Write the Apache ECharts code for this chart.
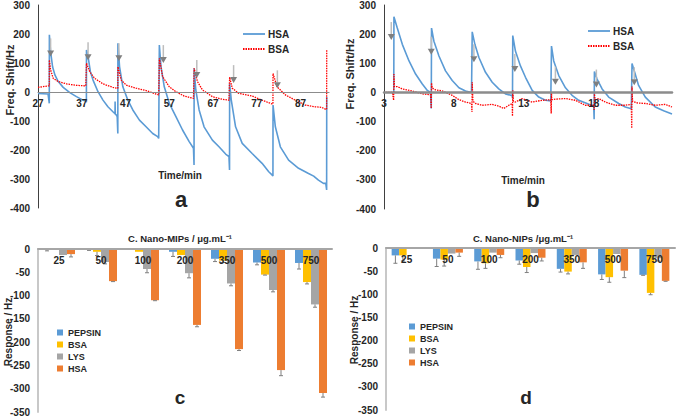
<!DOCTYPE html>
<html><head><meta charset="utf-8">
<script src="https://cdn.jsdelivr.net/npm/echarts@6/dist/echarts.min.js"></script>
<style>html,body{margin:0;padding:0;background:#fff}#c{width:676px;height:417px}</style>
</head><body><div id="c"></div>
<script>
// ---------- Panel a: time (min) vs frequency shift (Hz) ----------
const timeTicksA = [27, 37, 47, 57, 67, 77, 87];
const hsaA = [[27,-5],[29.3,-7],[29.58,-39],[29.6,197],[29.88,139],[30.33,87],[30.86,59],[31.62,36],[32.76,16],[34.27,-2],[35.79,-16],[37.3,-28],[37.91,-31],
 [38.06,-35],[38.08,145],[38.44,122],[38.97,70],[39.58,41],[40.71,1],[41.85,-28],[42.98,-51],[44.12,-68],[44.6,-75],[44.62,-33],[44.66,-76],[44.88,-79],[45.1,-85],
 [45.24,-143],[45.26,168],[45.64,87],[46.39,18],[47.53,-28],[48.67,-62],[50.18,-97],[51.7,-120],[53.21,-143],[54.35,-154],[54.58,-160],
 [54.71,-160],[54.73,162],[55.11,87],[55.86,18],[57.0,-39],[58.52,-85],[60.03,-131],[61.55,-171],[62.53,-194],
 [62.66,-252],[62.68,82],[63.06,7],[63.82,-62],[64.95,-120],[66.85,-166],[68.36,-189],[69.88,-214],[70.64,-223],
 [70.77,-269],[70.79,30],[71.17,-28],[72.15,-120],[73.67,-177],[75.94,-212],[78.21,-246],[79.73,-275],[80.48,-286],
 [80.69,-290],[80.71,-45],[81.24,-120],[82.38,-189],[84.27,-235],[86.55,-263],[88.82,-281],[90.0,-290],[91.09,-304],[92.23,-315],[92.76,-315],
 [92.96,-338],[92.98,-17]];
const bsaA = [[27,16],[29.35,21],[29.58,21],[29.6,110],[29.88,76],[30.48,47],[31.62,36],[33.52,28],[35.79,23],[37.91,21],
 [38.06,21],[38.08,99],[38.82,70],[39.95,47],[41.85,28],[44.12,16],[45.03,13],
 [45.24,13],[45.26,87],[46.02,41],[47.15,24],[49.42,13],[51.7,5],[53.97,-7],[54.58,-10],
 [54.71,-10],[54.73,116],[55.48,53],[57.0,18],[58.52,1],[60.41,-14],[62.53,-22],
 [62.66,-22],[62.68,82],[63.44,36],[64.58,7],[66.85,-16],[69.12,-25],[70.64,-28],
 [70.77,-28],[70.79,51],[71.39,13],[72.91,-5],[75.94,-14],[78.21,-28],[79.73,-37],[80.48,-41],
 [80.69,-41],[80.71,64],[81.62,18],[83.52,-10],[85.79,-28],[88.06,-45],[90.33,-51],[91.85,-53],[92.76,-60],
 [92.96,-60],[92.98,147]];
const arrowsA = [[29.88,133],[38.44,120],[45.48,116],[55.64,110],[63.29,59],[71.7,41],[81.7,23]];

// ---------- Panel b ----------
const timeTicksB = [3, 8, 13, 18];
const hsaB = [[3.7,0],[3.71,260],[3.95,221],[4.31,165],[4.79,108],[5.26,63],[5.74,29],[6.1,7],[6.33,0],
 [6.38,-55],[6.4,221],[6.57,176],[6.93,125],[7.4,74],[7.88,41],[8.36,16],[8.83,5],[9.26,0],
 [9.31,208],[9.5,165],[9.79,120],[10.26,69],[10.74,35],[11.21,12],[11.69,-5],[12.17,-11],
 [12.19,-20],[12.21,195],[12.4,142],[12.76,91],[13.12,52],[13.6,7],[14.07,-16],[14.55,-27],[14.93,-29],
 [14.98,159],[15.14,108],[15.5,58],[15.98,16],[16.45,-10],[16.93,-27],[17.52,-38],[18.0,-47],
 [18.03,-92],[18.05,72],[18.24,46],[18.6,12],[19.07,-16],[19.79,-38],[20.26,-50],[20.69,-56],
 [20.74,99],[20.93,69],[21.21,24],[21.69,-16],[22.4,-50],[23.0,-63],[23.6,-74]];
const bsaB = [[3.12,0],[3.6,0],[3.69,-27],[3.71,63],[3.75,20],[3.95,20],[4.31,12],[5.02,5],[5.74,-5],[6.33,-8],
 [6.38,-55],[6.4,32],[6.45,15],[6.69,9],[7.17,5],[7.88,-10],[8.36,-25],[8.83,-33],[9.26,-38],
 [9.29,-67],[9.31,35],[9.36,-30],[9.55,-38],[10.02,-44],[10.74,-41],[11.21,-47],[11.57,-55],[11.93,-44],[12.17,-38],
 [12.19,-81],[12.21,7],[12.25,-30],[12.4,-33],[12.88,-21],[13.6,-33],[14.31,-27],[14.93,-25],
 [14.96,-72],[14.98,1],[15.0,-25],[15.26,-23],[15.98,-21],[16.69,-27],[17.4,-44],[18.0,-44],
 [18.03,-60],[18.05,-5],[18.1,-25],[18.36,-21],[18.83,-33],[19.55,-44],[20.26,-44],[20.69,-41],
 [20.72,-123],[20.74,20],[20.78,-30],[21.1,-36],[21.69,-38],[22.4,-44],[23.12,-41],[23.6,-50]];
const arrowsB = [[3.52,190],[6.38,140],[9.43,114],[12.36,80],[15.26,37],[18.19,27],[20.9,35]];

// ---------- Panels c & d: bar responses ----------
const concLabels = ['25','50','100','200','350','500','750'];
const proteins = ['PEPSIN','BSA','LYS','HSA'];
const mipsPepsin = [-1, -1, -0.5, -6, -21, -29, -30];
const mipsBSA    = [-2, -6, -6, -13, -25, -55, -71];
const mipsLYS    = [-13, -28, -43, -52, -74, -88, -119];
const mipsHSA    = [-11, -69, -110, -163, -215, -260, -309];
const mipsPepsinErr = [3, 2, 0, 10, 6, 5, 13];
const mipsBSAErr    = [0, 8, 0, 0, 4, 1, 4];
const mipsLYSErr    = [0, 4, 8, 10, 5, 4, 6];
const mipsHSAErr    = [6, 1, 1, 4, 3, 12, 9];
const nipsPepsin = [-16, -23, -29, -27, -45, -57, -58];
const nipsBSA    = [-16, -25, -33, -41, -51, -63, -97];
const nipsLYS    = [-2, -12, -10, -11, -15, -13, -22];
const nipsHSA    = [-1, -10, -15, -21, -31, -49, -71];
const nipsPepsinErr = [17, 17, 17, 8, 7, 11, 1];
const nipsBSAErr    = [12, 14, 11, 12, 5, 11, 4];
const nipsLYSErr    = [0, 0, 0, 0, 0, 0, 6];
const nipsHSAErr    = [0, 8, 6, 7, 13, 15, 1];

const barColors = ['#5B9BD5','#FFC000','#A5A5A5','#ED7D31'];
const FONT = 'Liberation Sans';
const txt = '#262626';

const chart = echarts.init(document.getElementById('c'), null, {renderer:'svg'});

function lineXAxis(idx, min, max, ticks, lw, off) {
  return {type:'value', gridIndex:idx, min:min, max:max, position:'bottom', offset:off, z:8,
    axisLine:{onZero:false, lineStyle:{color:'#8c8c8c', width:lw}},
    axisTick:{show:false}, splitLine:{show:false},
    axisLabel:{customValues:ticks, margin:6, color:txt, fontSize:10, fontWeight:'bold', fontFamily:FONT}};
}
function lineYAxis(idx) {
  return {type:'value', gridIndex:idx, min:-400, max:300, interval:100,
    axisLine:{show:true, onZero:false, lineStyle:{color:'#404040', width:1}},
    axisTick:{show:false}, splitLine:{show:false},
    axisLabel:{margin:8, color:txt, fontSize:10, fontWeight:'bold', fontFamily:FONT}};
}
function barXAxis(idx) {
  return {type:'category', gridIndex:idx, data:concLabels, position:'top', z:8,
    axisLine:{onZero:true, lineStyle:{color:'#a6a6a6', width:2}},
    axisTick:{show:false}, splitLine:{show:false},
    axisLabel:{inside:true, margin:6, color:txt, fontSize:10, fontWeight:'bold', fontFamily:FONT}};
}
function barYAxis(idx) {
  return {type:'value', gridIndex:idx, min:-350, max:0, interval:50,
    axisLine:{show:true, onZero:false, lineStyle:{color:'#c8c8c8', width:2}},
    axisTick:{show:false}, splitLine:{show:false},
    axisLabel:{margin:8, color:txt, fontSize:10, fontWeight:'bold', fontFamily:FONT}};
}
function arrowSeries(idx, data) {
  return {type:'custom', xAxisIndex:idx, yAxisIndex:idx, z:6, encode:{x:0,y:1}, data:data,
    renderItem:function(params, api){
      const p = api.coord([api.value(0), api.value(1)]);
      return {type:'group', children:[
        {type:'line', shape:{x1:p[0], y1:p[1]-15, x2:p[0], y2:p[1]-3}, style:{stroke:'#bdbdbd', lineWidth:1.5}},
        {type:'polygon', shape:{points:[[p[0]-3.5,p[1]-3],[p[0]+3.5,p[1]-3],[p[0],p[1]+3]]}, style:{fill:'#7f7f7f'}}
      ]};
    }};
}
function barSeries(idx, name, data, color, bw) {
  return {type:'bar', name:name, xAxisIndex:idx, yAxisIndex:idx, data:data, barWidth:bw, barGap:'0%',
    itemStyle:{color:color}, z:2};
}
function errSeries(idx, values, errs, off) {
  return {type:'custom', xAxisIndex:idx, yAxisIndex:idx, z:4, encode:{x:0,y:1},
    data: values.map((v,i)=>[i, v, errs[i]]),
    renderItem:function(params, api){
      const e = api.value(2);
      if (!e) return {type:'group', children:[]};
      const p0 = api.coord([api.value(0), api.value(1)]);
      const p1 = api.coord([api.value(0), api.value(1) - e]);
      const x = p0[0] + off;
      return {type:'group', children:[
        {type:'line', shape:{x1:x, y1:p0[1], x2:x, y2:p1[1]}, style:{stroke:'#7f7f7f', lineWidth:1}},
        {type:'line', shape:{x1:x-2, y1:p1[1], x2:x+2, y2:p1[1]}, style:{stroke:'#7f7f7f', lineWidth:1}}
      ]};
    }};
}

const mips = [mipsPepsin, mipsBSA, mipsLYS, mipsHSA];
const mipsErr = [mipsPepsinErr, mipsBSAErr, mipsLYSErr, mipsHSAErr];
const nips = [nipsPepsin, nipsBSA, nipsLYS, nipsHSA];
const nipsErr = [nipsPepsinErr, nipsBSAErr, nipsLYSErr, nipsHSAErr];
const series = [];
proteins.forEach((p,i)=>{ series.push(barSeries(2, p, mips[i], barColors[i], 8)); });
proteins.forEach((p,i)=>{ series.push(barSeries(3, p, nips[i], barColors[i], 7.5)); });
proteins.forEach((p,i)=>{ series.push(errSeries(2, mips[i], mipsErr[i], -12 + 8*i)); });
proteins.forEach((p,i)=>{ series.push(errSeries(3, nips[i], nipsErr[i], -11.25 + 7.5*i)); });
series.push({type:'line', name:'HSA a', xAxisIndex:0, yAxisIndex:0, data:hsaA, showSymbol:false, lineStyle:{color:'#5B9BD5', width:1.6}, z:3});
series.push({type:'line', name:'BSA a', xAxisIndex:0, yAxisIndex:0, data:bsaA, showSymbol:false, lineStyle:{color:'#FF0000', width:1.3, type:[1.5,1]}, z:4});
series.push({type:'line', name:'HSA b', xAxisIndex:1, yAxisIndex:1, data:hsaB, showSymbol:false, lineStyle:{color:'#5B9BD5', width:1.6}, z:3});
series.push({type:'line', name:'BSA b', xAxisIndex:1, yAxisIndex:1, data:bsaB, showSymbol:false, lineStyle:{color:'#FF0000', width:1.3, type:[1.5,1]}, z:4});
series.push(arrowSeries(0, arrowsA));
series.push(arrowSeries(1, arrowsB));

function T(x, y, text, font, rot, align) {
  return {type:'text', x:x, y:y, rotation:rot||0, z:10,
    style:{text:text, font:font, fill:txt, align:align||'center', verticalAlign:'middle'}};
}
function L(x1, x2, y, color, dash) {
  return {type:'line', shape:{x1:x1, y1:y, x2:x2, y2:y}, z:10,
    style:{stroke:color, lineWidth:1.8, lineDash:dash||null}};
}
const B10 = 'bold 10px ' + FONT;
const B11 = 'bold 11px ' + FONT;

chart.setOption({
  animation:false,
  backgroundColor:'#ffffff',
  grid:[
    {left:38, top:5, width:291, height:203},
    {left:384, top:4, width:288, height:205},
    {left:38, top:249, width:294, height:165},
    {left:386, top:248, width:289, height:162}
  ],
  xAxis:[lineXAxis(0, 27, 93.5, timeTicksA, 1.2, -116), lineXAxis(1, 3, 23.6, timeTicksB, 2.5, -117),
         barXAxis(2), barXAxis(3)],
  yAxis:[lineYAxis(0), lineYAxis(1), barYAxis(2), barYAxis(3)],
  legend:[
    {data:proteins, orient:'vertical', left:52, top:323, icon:'rect', itemWidth:6, itemHeight:6, itemGap:3,
      textStyle:{fontSize:9, fontWeight:'bold', color:txt, fontFamily:FONT}},
    {data:proteins, orient:'vertical', left:404, top:317, icon:'rect', itemWidth:6, itemHeight:6, itemGap:3,
      textStyle:{fontSize:9, fontWeight:'bold', color:txt, fontFamily:FONT}}
  ],
  graphic:[
    T(10, 80, 'Freq. Shift/Hz', B11, Math.PI/2),
    T(350, 74, 'Freq. Shift/Hz', B11, Math.PI/2),
    T(180, 175, 'Time/min', B10),
    T(523, 180, 'Time/min', B10),
    T(181, 199, 'a', 'bold 22px ' + FONT),
    T(533, 199, 'b', 'bold 22px ' + FONT),
    T(180, 397, 'c', 'bold 19px ' + FONT),
    T(526, 397, 'd', 'bold 19px ' + FONT),
    T(180, 238, 'C. Nano-MIPs / μg.mL⁻¹', 'bold 9.5px ' + FONT),
    T(523, 238, 'C. Nano-NIPs /μg.mL⁻¹', 'bold 9.5px ' + FONT),
    T(8, 332, 'Response / Hz', B10, Math.PI/2),
    T(354, 330, 'Response / Hz', B10, Math.PI/2),
    L(243, 265, 34, '#5B9BD5'),
    L(243, 265, 49, '#FF0000', [1.5,1]),
    T(268, 34, 'HSA', B10, 0, 'left'),
    T(268, 49, 'BSA', B10, 0, 'left'),
    L(588, 610, 31, '#5B9BD5'),
    L(588, 610, 46, '#FF0000', [1.5,1]),
    T(613, 31, 'HSA', B10, 0, 'left'),
    T(613, 46, 'BSA', B10, 0, 'left')
  ],
  series:series
});
</script></body></html>
